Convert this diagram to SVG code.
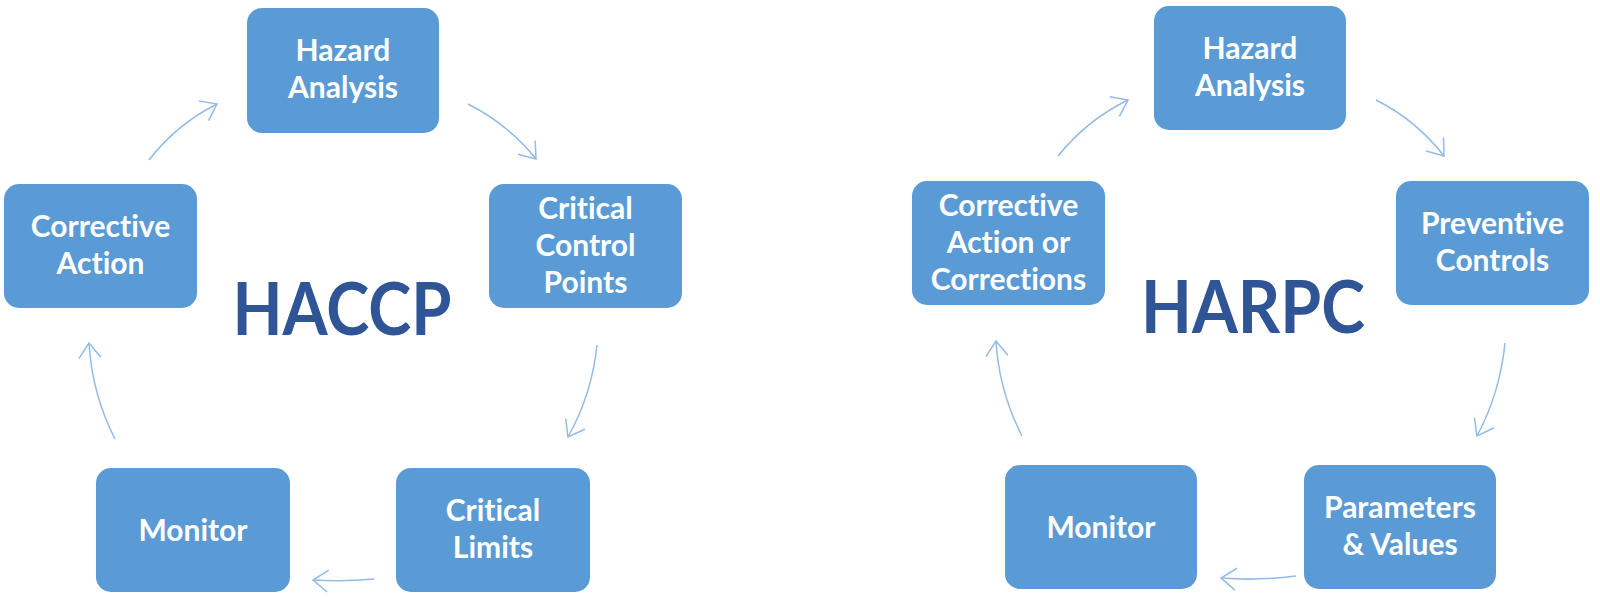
<svg xmlns="http://www.w3.org/2000/svg" width="1600" height="598" viewBox="0 0 1600 598">
<defs>
<style>
.box{fill:#5b9bd5}
.lbl{font-family:Lato,"Liberation Sans",sans-serif;font-weight:700;font-size:30px;fill:#ffffff;text-anchor:middle;font-variant-ligatures:none}
.title{font-family:Lato,"Liberation Sans",sans-serif;font-weight:700;font-size:72px;fill:#2f5597;text-anchor:middle}
.conn{fill:none;stroke:#92bbe6;stroke-width:1.5;marker-end:url(#arr)}
</style>
<marker id="arr" markerUnits="userSpaceOnUse" markerWidth="30" markerHeight="30" viewBox="-20 -15 30 30" refX="0" refY="0" orient="auto">
<path d="M-15,-11 L0,0 L-15,11" fill="none" stroke="#92bbe6" stroke-width="1.5"/>
</marker>
</defs>
<rect width="1600" height="598" fill="#ffffff"/>
<g id="connectors">
<path class="conn" d="M149,160 Q177,124 217,104"/>
<path class="conn" d="M468,104 Q508,124 536,159"/>
<path class="conn" d="M597,345 Q592,394 568,437"/>
<path class="conn" d="M374,579 Q343,582 313,580"/>
<path class="conn" d="M115,439 Q92,394 89,343"/>
<path class="conn" d="M1058,156 Q1087,120 1128,100"/>
<path class="conn" d="M1376,100 Q1416,120 1444,156"/>
<path class="conn" d="M1505,343 Q1500,393 1477,436"/>
<path class="conn" d="M1296,576 Q1258,581 1221,578"/>
<path class="conn" d="M1022,436 Q999,391 996,341"/>
</g>
<g id="haccp-title"><text class="title" x="342" y="335" textLength="219" lengthAdjust="spacingAndGlyphs">HACCP</text></g>
<g id="harpc-title"><text class="title" x="1253" y="333" textLength="224" lengthAdjust="spacingAndGlyphs">HARPC</text></g>
<g id="l-hazard"><rect class="box" x="247" y="8" width="192" height="125" rx="15"/><text class="lbl" x="343" y="61">Hazard</text><text class="lbl" x="343" y="98">Analysis</text></g>
<g id="l-ccp"><rect class="box" x="489" y="184" width="193" height="124" rx="15"/><text class="lbl" x="585.5" y="219">Critical</text><text class="lbl" x="585.5" y="256">Control</text><text class="lbl" x="585.5" y="293">Points</text></g>
<g id="l-limits"><rect class="box" x="396" y="468" width="194" height="124" rx="15"/><text class="lbl" x="493" y="521">Critical</text><text class="lbl" x="493" y="558">Limits</text></g>
<g id="l-monitor"><rect class="box" x="96" y="468" width="194" height="124" rx="15"/><text class="lbl" x="193" y="541">Monitor</text></g>
<g id="l-corrective"><rect class="box" x="4" y="184" width="193" height="124" rx="15"/><text class="lbl" x="100.5" y="237">Corrective</text><text class="lbl" x="100.5" y="274">Action</text></g>
<g id="r-hazard"><rect class="box" x="1154" y="6" width="192" height="124" rx="15"/><text class="lbl" x="1250" y="59">Hazard</text><text class="lbl" x="1250" y="96">Analysis</text></g>
<g id="r-preventive"><rect class="box" x="1396" y="181" width="193" height="124" rx="15"/><text class="lbl" x="1492.5" y="234">Preventive</text><text class="lbl" x="1492.5" y="271">Controls</text></g>
<g id="r-params"><rect class="box" x="1304" y="465" width="192" height="124" rx="15"/><text class="lbl" x="1400" y="518">Parameters</text><text class="lbl" x="1400" y="555">&amp; Values</text></g>
<g id="r-monitor"><rect class="box" x="1005" y="465" width="192" height="124" rx="15"/><text class="lbl" x="1101" y="538">Monitor</text></g>
<g id="r-corrective"><rect class="box" x="912" y="181" width="193" height="124" rx="15"/><text class="lbl" x="1008.5" y="216">Corrective</text><text class="lbl" x="1008.5" y="253">Action or</text><text class="lbl" x="1008.5" y="290">Corrections</text></g>
</svg>
